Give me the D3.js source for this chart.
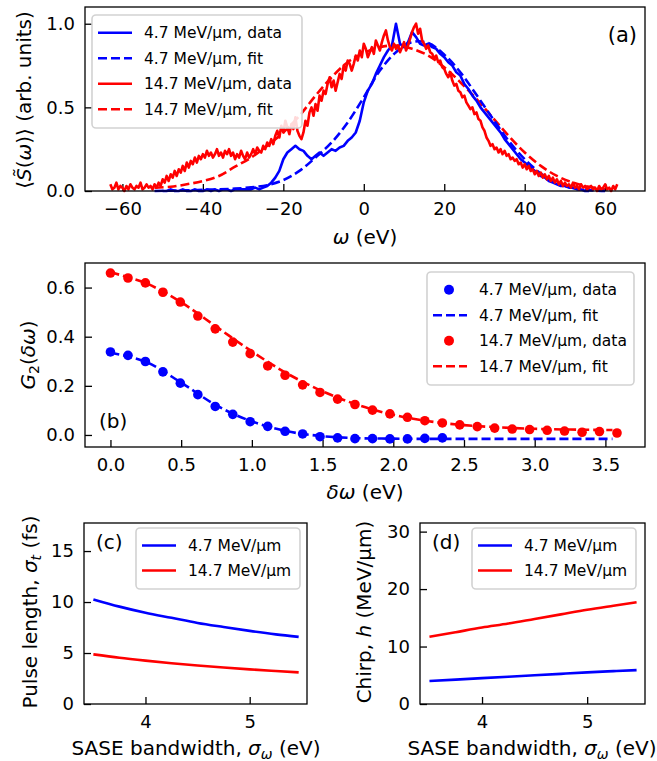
<!DOCTYPE html>
<html>
<head>
<meta charset="utf-8">
<script src="https://cdn.jsdelivr.net/npm/d3@7"></script>
<style>
  body { margin: 0; background: #fff; }
  svg { font-family: 'DejaVu Sans', sans-serif; }
  .tick line { stroke: #000; stroke-width: 1.3; }
  .tick text { font-size: 18px; fill: #000; }
  .frame { fill: none; stroke: #000; stroke-width: 1.3; }
  .axis-label { font-size: 20px; fill: #000; }
  .legend text { font-size: 15.5px; fill: #000; }
  .panel-tag { font-size: 20px; fill: #000; }
</style>
</head>
<body>
<svg width="657" height="761"></svg>
<script>
const svg = d3.select('svg');

// ---- panel (a): averaged spectra ----
const redDataStart = -63;   // eV, sampling of the measured red spectrum
const redDataStep = 0.5;
const redData = [
  0.04,0.01,0.02,0.05,0.01,0.03,0.02,0.00,0.03,0.01,0.04,0.02,0.01,0.03,0.02,0.05,0.01,0.02,0.04,0.02,
  0.03,0.01,0.04,0.02,0.05,0.03,0.07,0.05,0.09,0.06,0.10,0.08,0.12,0.09,0.13,0.11,0.15,0.12,0.17,0.14,
  0.18,0.16,0.20,0.17,0.21,0.19,0.22,0.20,0.24,0.21,0.23,0.20,0.22,0.25,0.21,0.23,0.20,0.24,0.22,0.25,
  0.21,0.23,0.19,0.22,0.20,0.24,0.21,0.19,0.23,0.20,0.22,0.25,0.22,0.26,0.24,0.23,0.27,0.25,0.29,0.27,
  0.31,0.28,0.33,0.36,0.32,0.39,0.35,0.42,0.38,0.34,0.40,0.37,0.44,0.36,0.33,0.31,0.35,0.42,0.39,0.47,
  0.50,0.45,0.52,0.48,0.57,0.54,0.60,0.58,0.64,0.68,0.62,0.66,0.60,0.65,0.70,0.67,0.75,0.72,0.78,0.76,
  0.72,0.76,0.81,0.78,0.84,0.80,0.88,0.85,0.80,0.83,0.86,0.82,0.90,0.87,0.84,0.89,0.93,0.96,0.90,0.86,
  0.84,0.88,0.85,0.87,0.83,0.86,0.89,0.84,0.87,0.91,0.95,0.98,1.00,0.94,0.97,0.90,0.88,0.85,0.87,0.83,
  0.82,0.79,0.81,0.77,0.78,0.74,0.73,0.70,0.68,0.71,0.66,0.63,0.64,0.60,0.59,0.56,0.57,0.53,0.51,0.49,
  0.50,0.46,0.47,0.43,0.42,0.38,0.36,0.32,0.30,0.27,0.28,0.25,0.26,0.23,0.25,0.22,0.24,0.21,0.22,0.19,
  0.20,0.18,0.19,0.16,0.17,0.14,0.16,0.13,0.15,0.12,0.13,0.10,0.12,0.09,0.11,0.08,0.10,0.07,0.09,0.06,
  0.08,0.05,0.07,0.04,0.06,0.03,0.05,0.03,0.04,0.02,0.05,0.02,0.03,0.01,0.04,0.02,0.03,0.01,0.02,0.03,
  0.01,0.02,0.00,0.03,0.01,0.02,0.04,0.01,0.02,0.00,0.03,0.01,0.04
];
const blueDataStart = -50;
const blueDataStep = 1;
const blueData = [
  0.00,0.00,0.01,0.00,0.00,0.01,0.00,0.00,0.01,0.00,
  0.00,0.01,0.00,0.01,0.00,0.01,0.01,0.00,0.01,0.01,
  0.01,0.01,0.01,0.02,0.01,0.02,0.03,0.05,0.08,0.12,
  0.19,0.23,0.25,0.27,0.25,0.24,0.21,0.19,0.21,0.23,
  0.21,0.23,0.25,0.24,0.26,0.27,0.30,0.32,0.35,0.42,
  0.53,0.60,0.64,0.70,0.75,0.80,0.84,0.87,1.00,0.88,
  0.86,0.89,0.95,0.92,0.88,0.87,0.88,0.86,0.85,0.82,
  0.80,0.77,0.75,0.71,0.69,0.64,0.61,0.57,0.54,0.50,
  0.47,0.44,0.41,0.38,0.35,0.31,0.28,0.25,0.22,0.19,
  0.17,0.15,0.13,0.11,0.09,0.08,0.06,0.05,0.04,0.03,
  0.03,0.02,0.02,0.01,0.01,0.00,0.00
];
const fitOmega = [-52,-48,-44,-40,-36,-32,-28,-24,-20,-16,-12,-8,-4,0,4,8,12,16,20,24,28,32,36,40,44,48,52,56,60];
const blueFit = [0.000,0.002,0.004,0.007,0.010,0.014,0.022,0.035,0.065,0.120,0.200,0.290,0.410,0.560,0.720,0.830,0.890,0.885,0.815,0.710,0.575,0.435,0.300,0.190,0.105,0.050,0.018,0.005,0.000];
const redFit  = [0.020,0.025,0.040,0.060,0.090,0.145,0.200,0.270,0.350,0.450,0.570,0.680,0.770,0.825,0.860,0.870,0.850,0.810,0.740,0.650,0.550,0.440,0.330,0.230,0.150,0.090,0.050,0.025,0.010];

// ---- panel (b): second-order correlation ----
const deltaOmega = [0.000,0.124,0.247,0.371,0.494,0.618,0.741,0.865,0.988,1.112,1.235,1.359,1.482,1.606,1.729,
  1.853,1.976,2.100,2.223,2.347,2.470,2.594,2.717,2.841,2.964,3.088,3.211,3.335,3.458,3.582];
const g2Blue = [0.338,0.324,0.299,0.257,0.211,0.164,0.116,0.084,0.054,0.035,0.015,0.004,-0.007,-0.012,-0.015,
  -0.015,-0.016,-0.016,-0.014,-0.012];
const g2Red = [0.659,0.639,0.619,0.581,0.541,0.484,0.432,0.378,0.331,0.281,0.243,0.204,0.173,0.146,0.124,
  0.101,0.086,0.072,0.058,0.049,0.041,0.034,0.028,0.024,0.022,0.019,0.016,0.011,0.014,0.008];
const g2FitX = [0,0.25,0.5,0.75,1.0,1.25,1.5,1.75,2.0,2.25,2.5,2.75,3.0,3.25,3.55];
const g2FitBlue = [0.335,0.298,0.213,0.120,0.055,0.015,-0.005,-0.013,-0.015,-0.016,-0.016,-0.016,-0.016,-0.016,-0.016];
const g2FitRed = [0.662,0.618,0.540,0.440,0.340,0.250,0.178,0.122,0.082,0.056,0.040,0.031,0.025,0.022,0.020];

// ---- panels (c), (d) ----
const sigmaOmega = [3.5,3.75,4.0,4.25,4.5,4.75,5.0,5.25,5.47];
const pulseBlue = [10.26,9.55,8.95,8.45,7.95,7.55,7.17,6.83,6.58];
const pulseRed = [4.87,4.53,4.25,4.00,3.78,3.58,3.40,3.24,3.10];
const chirpBlue = [4.0,4.25,4.5,4.75,5.0,5.25,5.5,5.72,5.9];
const chirpRed = [11.7,12.5,13.3,14.0,14.8,15.6,16.4,17.1,17.7];

const seriesNames = ['4.7 MeV/\u03bcm', '14.7 MeV/\u03bcm'];
const blue = '#0000ff';
const red = '#ff0000';

const lineWidth = 2.6;
const dash = '9,4';

// sample positions of the measured spectra
const redOmega = redData.map((d, i) => redDataStart + i * redDataStep);
const blueOmega = blueData.map((d, i) => blueDataStart + i * blueDataStep);

// common panel setup: frame, inward ticks
const makePanel = ({left, right, top, bottom, xDomain, yDomain, xTicks, yTicks, xFormat, yFormat}) => {
  const x = d3.scaleLinear().domain(xDomain).range([left, right]);
  const y = d3.scaleLinear().domain(yDomain).range([bottom, top]);
  const g = svg.append('g');

  const xAxisGroup = g.append('g')
    .attr('transform', `translate(0, ${bottom})`)
    .call(d3.axisBottom(x).tickValues(xTicks).tickFormat(xFormat)
      .tickSizeInner(-7).tickSizeOuter(0).tickPadding(11.5));
  xAxisGroup.selectAll('.domain').remove();
  xAxisGroup.attr('font-family', null).attr('font-size', null);

  const yAxisGroup = g.append('g')
    .attr('transform', `translate(${left}, 0)`)
    .call(d3.axisLeft(y).tickValues(yTicks).tickFormat(yFormat)
      .tickSizeInner(-7).tickSizeOuter(0).tickPadding(10));
  yAxisGroup.selectAll('.domain').remove();
  yAxisGroup.attr('font-family', null).attr('font-size', null);

  const plot = g.append('g');
  svg.append('rect')
    .attr('class', 'frame')
    .attr('x', left).attr('y', top)
    .attr('width', right - left).attr('height', bottom - top);
  return {x, y, g, plot};
};

const addLine = (panel, xs, ys, color, dashed, curve = d3.curveLinear) => {
  const line = d3.line()
    .x((d, i) => panel.x(xs[i]))
    .y(d => panel.y(d))
    .curve(curve);
  panel.plot.append('path')
    .attr('fill', 'none')
    .attr('stroke', color)
    .attr('stroke-width', lineWidth)
    .attr('stroke-linejoin', 'round')
    .attr('stroke-dasharray', dashed ? dash : null)
    .attr('d', line(ys));
};

const addDots = (panel, xs, ys, color) => {
  panel.plot.append('g').selectAll('circle').data(ys).enter().append('circle')
    .attr('cx', (d, i) => panel.x(xs[i]))
    .attr('cy', d => panel.y(d))
    .attr('r', 4.8)
    .attr('fill', color);
};

const addLegend = (x0, y0, w, rowH, entries) => {
  const g = svg.append('g').attr('class', 'legend');
  g.append('rect')
    .attr('x', x0).attr('y', y0)
    .attr('width', w).attr('height', rowH * entries.length + 11)
    .attr('rx', 4)
    .attr('fill', 'rgba(255,255,255,0.85)')
    .attr('stroke', '#d2d2d2')
    .attr('stroke-width', 1.6);
  entries.forEach((e, i) => {
    const cy = y0 + 5 + rowH * (i + 0.5);
    if (e.kind === 'dot') {
      g.append('circle').attr('cx', x0 + 22).attr('cy', cy).attr('r', 5).attr('fill', e.color);
    } else {
      g.append('line')
        .attr('x1', x0 + 6).attr('x2', x0 + 40)
        .attr('y1', cy).attr('y2', cy)
        .attr('stroke', e.color).attr('stroke-width', lineWidth)
        .attr('stroke-dasharray', e.kind === 'dash' ? dash : null);
    }
    g.append('text').attr('x', x0 + 52).attr('y', cy + 5.5).text(e.text);
  });
};

const axisLabel = (x, y, html, rotate) => svg.append('text')
  .attr('class', 'axis-label')
  .attr('transform', `translate(${x}, ${y})` + (rotate ? ' rotate(-90)' : ''))
  .attr('text-anchor', 'middle')
  .html(html);

const fmt1 = d3.format('.1f');
const fmt0 = d3.format('d');
const it = s => `<tspan font-style="italic">${s}</tspan>`;
const sub = (s, italic) => `<tspan font-size="14" dy="4"${italic ? ' font-style="italic"' : ''}>${s}</tspan>`;

// ---------------- (a) ----------------
const pa = makePanel({left: 85, right: 645, top: 7, bottom: 191,
  xDomain: [-69.3, 69.9], yDomain: [0, 1.1],
  xTicks: [-60,-40,-20,0,20,40,60], yTicks: [0,0.5,1.0],
  xFormat: fmt0, yFormat: fmt1});

addLine(pa, fitOmega, redFit, red, true, d3.curveCatmullRom);
addLine(pa, fitOmega, blueFit, blue, true, d3.curveCatmullRom);
addLine(pa, blueOmega, blueData, blue, false);
addLine(pa, redOmega, redData, red, false);

axisLabel(365, 244, `${it('\u03c9')} (eV)`);
axisLabel(31, 100, `\u27e8${it('S\u0303')}(${it('\u03c9')})\u27e9 (arb. units)`, true);
svg.append('text').attr('class', 'panel-tag').attr('x', 637).attr('y', 42)
  .attr('text-anchor', 'end').style('font-size', '21px').text('(a)');

addLegend(92, 15, 210, 25.5, [
  {kind: 'line', color: blue, text: seriesNames[0] + ', data'},
  {kind: 'dash', color: blue, text: seriesNames[0] + ', fit'},
  {kind: 'line', color: red, text: seriesNames[1] + ', data'},
  {kind: 'dash', color: red, text: seriesNames[1] + ', fit'}
]);

// ---------------- (b) ----------------
const pb = makePanel({left: 85, right: 645, top: 263, bottom: 447,
  xDomain: [-0.18, 3.78], yDomain: [-0.049, 0.70],
  xTicks: [0,0.5,1.0,1.5,2.0,2.5,3.0,3.5], yTicks: [0,0.2,0.4,0.6],
  xFormat: fmt1, yFormat: fmt1});

addDots(pb, deltaOmega, g2Blue, blue);
addDots(pb, deltaOmega, g2Red, red);
addLine(pb, g2FitX, g2FitBlue, blue, true, d3.curveCatmullRom);
addLine(pb, g2FitX, g2FitRed, red, true, d3.curveCatmullRom);

axisLabel(365, 499, `${it('\u03b4\u03c9')} (eV)`);
axisLabel(35, 355, `${it('G')}${sub('2')}<tspan dy="-4">(</tspan>${it('\u03b4\u03c9')})`, true);
svg.append('text').attr('class', 'panel-tag').attr('x', 99).attr('y', 428).text('(b)');

addLegend(427, 272, 207, 25.5, [
  {kind: 'dot', color: blue, text: seriesNames[0] + ', data'},
  {kind: 'dash', color: blue, text: seriesNames[0] + ', fit'},
  {kind: 'dot', color: red, text: seriesNames[1] + ', data'},
  {kind: 'dash', color: red, text: seriesNames[1] + ', fit'}
]);

// ---------------- (c) ----------------
const pc = makePanel({left: 84, right: 307, top: 523, bottom: 704,
  xDomain: [3.41, 5.55], yDomain: [0, 17.75],
  xTicks: [4, 5], yTicks: [0, 5, 10, 15],
  xFormat: fmt0, yFormat: fmt0});
addLine(pc, sigmaOmega, pulseBlue, blue, false, d3.curveMonotoneX);
addLine(pc, sigmaOmega, pulseRed, red, false, d3.curveMonotoneX);

axisLabel(196, 755, `SASE bandwidth, ${it('\u03c3')}${sub('\u03c9', true)}<tspan dy="-4"> (eV)</tspan>`);
axisLabel(37, 612, `Pulse length, ${it('\u03c3')}${sub('t', true)}<tspan dy="-4"> (fs)</tspan>`, true);
svg.append('text').attr('class', 'panel-tag').attr('x', 96).attr('y', 549).text('(c)');

addLegend(136, 528, 164, 25, [
  {kind: 'line', color: blue, text: seriesNames[0]},
  {kind: 'line', color: red, text: seriesNames[1]}
]);

// ---------------- (d) ----------------
const pd = makePanel({left: 420, right: 645, top: 523, bottom: 704,
  xDomain: [3.41, 5.55], yDomain: [0, 31.5],
  xTicks: [4, 5], yTicks: [0, 10, 20, 30],
  xFormat: fmt0, yFormat: fmt0});
addLine(pd, sigmaOmega, chirpBlue, blue, false, d3.curveMonotoneX);
addLine(pd, sigmaOmega, chirpRed, red, false, d3.curveMonotoneX);

axisLabel(532, 755, `SASE bandwidth, ${it('\u03c3')}${sub('\u03c9', true)}<tspan dy="-4"> (eV)</tspan>`);
axisLabel(371, 612, `Chirp, ${it('h')} (MeV/\u03bcm)`, true);
svg.append('text').attr('class', 'panel-tag').attr('x', 432).attr('y', 549).text('(d)');

addLegend(472, 528, 164, 25, [
  {kind: 'line', color: blue, text: seriesNames[0]},
  {kind: 'line', color: red, text: seriesNames[1]}
]);
</script>
</body>
</html>
